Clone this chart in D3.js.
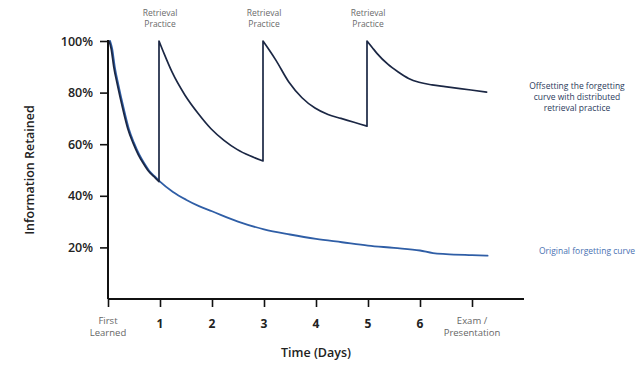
<!DOCTYPE html>
<html><head><meta charset="utf-8">
<script src="https://cdn.jsdelivr.net/npm/d3@7"></script>
<style>
html,body{margin:0;padding:0;background:#fff;}
svg{display:block;font-family:"Open Sans","Noto Sans",sans-serif;}
</style></head>
<body>
<svg id="chart" width="642" height="368"></svg>
<script>
// ---- data ----
const xTickValues = [0, 1, 2, 3, 4, 5, 6, 7];
const xTickLabels = [["First","Learned"], ["1"], ["2"], ["3"], ["4"], ["5"], ["6"], ["Exam /","Presentation"]];
const yTickValues = [20, 40, 60, 80, 100];
const yTickLabels = ["20%", "40%", "60%", "80%", "100%"];
const practiceDays = [1, 3, 5];

// original forgetting curve (day, % retained)
const originalDays   = [0.04, 0.08, 0.13, 0.2, 0.3, 0.4, 0.5, 0.6, 0.7, 0.8, 0.9, 1.0, 1.25, 1.5, 1.75, 2, 2.5, 3, 3.5, 4, 4.5, 5, 5.5, 6, 6.25, 6.5, 7, 7.3];
const originalValues = [100, 97, 90, 83, 74, 66, 60.5, 56, 52.5, 49.5, 47.5, 45.5, 41.5, 38.5, 36, 34, 30, 27, 25, 23.3, 22, 20.7, 19.8, 18.8, 17.8, 17.4, 17, 16.8];

// retrieval-practice curve, one segment per learning/retrieval event
const seg1Days   = [0.04, 0.08, 0.13, 0.2, 0.3, 0.4, 0.5, 0.6, 0.7, 0.8, 0.9, 1.0];
const seg1Values = [100, 97, 90, 83, 74, 66, 60.5, 56, 52.5, 49.5, 47.5, 45.5];
const seg2Days   = [1, 1.1, 1.25, 1.5, 1.75, 2, 2.25, 2.5, 2.75, 3];
const seg2Values = [100, 95, 88, 79, 72, 66, 61.5, 58, 55.5, 53.5];
const seg3Days   = [3, 3.12, 3.25, 3.5, 3.75, 4, 4.25, 4.5, 4.75, 5];
const seg3Values = [100, 96.5, 92.5, 84, 78, 74, 71.5, 70, 68.5, 67];
const seg4Days   = [5, 5.1, 5.2, 5.4, 5.6, 5.8, 6, 6.25, 6.5, 7, 7.3];
const seg4Values = [100, 97.5, 95, 91, 88, 85.5, 84, 83, 82.3, 81, 80.2];

// ---- layout ----
const svg = d3.select("#chart");
const x = d3.scaleLinear().domain([0, 8]).range([108, 524]);
const y = d3.scaleLinear().domain([0, 100]).range([299, 41]);

const toPts = (ds, vs) => ds.map((d, i) => [d, vs[i]]);
const line = d3.line().x(d => x(d[0])).y(d => y(d[1])).curve(d3.curveMonotoneX);

// original curve
svg.append("path")
  .attr("d", line(toPts(originalDays, originalValues)))
  .attr("fill", "none").attr("stroke", "#2f5ea6").attr("stroke-width", 1.8)
  .attr("stroke-linejoin", "round").attr("stroke-linecap", "round");

// retrieval curve: segments joined by vertical jumps
const segs = [toPts(seg1Days, seg1Values), toPts(seg2Days, seg2Values), toPts(seg3Days, seg3Values), toPts(seg4Days, seg4Values)];
const dRet = segs.map((s, i) => { const p = line(s); return i === 0 ? p : p.replace(/^M/, "L"); }).join("");
svg.append("path")
  .attr("d", dRet)
  .attr("fill", "none").attr("stroke", "#1b2744").attr("stroke-width", 1.7)
  .attr("stroke-linejoin", "round").attr("stroke-linecap", "round")
  .attr("transform", "translate(-1,0)");

// axes
const yAxis = d3.axisLeft(y).tickValues(yTickValues).tickSize(8).tickFormat((d, i) => yTickLabels[i]);
const gy = svg.append("g").attr("transform", `translate(${x(0)},0)`).call(yAxis);
gy.select(".domain").attr("d", `M0,${y(100)-1}V${y(0)}`).attr("stroke", "#111").attr("stroke-width", 2);
gy.selectAll(".tick line").attr("stroke", "#111").attr("stroke-width", 1.6);
gy.selectAll(".tick text").attr("x", -15).attr("font-size", 12.5).attr("font-weight", 600)
  .attr("fill", "#222").attr("font-family", "Open Sans, sans-serif");

const xAxis = d3.axisBottom(x).tickValues(xTickValues).tickSize(8).tickFormat("");
const gx = svg.append("g").attr("transform", `translate(0,${y(0)})`).call(xAxis);
gx.select(".domain").attr("d", `M${x(0)},0H${x(8)}`).attr("stroke", "#111").attr("stroke-width", 2);
gx.selectAll(".tick line").attr("stroke", "#111").attr("stroke-width", 1.6);

// x tick labels
xTickValues.forEach((v, i) => {
  const lbl = xTickLabels[i];
  const t = svg.append("text").attr("x", x(v)).attr("text-anchor", "middle");
  if (lbl.length === 1) {
    t.attr("y", 328).attr("font-size", 12).attr("font-weight", 700).attr("fill", "#222").text(lbl[0]);
  } else {
    t.attr("font-size", 9.5).attr("fill", "#666");
    lbl.forEach((s, k) => t.append("tspan").attr("x", x(v)).attr("y", 324 + k * 12).text(s));
  }
});

// retrieval practice labels
practiceDays.forEach(d => {
  const t = svg.append("text").attr("text-anchor", "middle").attr("font-size", 8.5).attr("fill", "#6b6b6b");
  t.append("tspan").attr("x", x(d)).attr("y", 16).text("Retrieval");
  t.append("tspan").attr("x", x(d)).attr("y", 27).text("Practice");
});

// series annotations
const ann = svg.append("text").attr("text-anchor", "middle").attr("font-size", 8.5).attr("fill", "#2b3a5c");
["Offsetting the forgetting", "curve with distributed", "retrieval practice"].forEach((s, k) =>
  ann.append("tspan").attr("x", 577).attr("y", 89 + k * 11.2).text(s));
svg.append("text").attr("x", 587).attr("y", 254).attr("text-anchor", "middle")
  .attr("font-size", 8.5).attr("fill", "#4a72b2").text("Original forgetting curve");

// axis titles
svg.append("text").attr("transform", "translate(34,170) rotate(-90)").attr("text-anchor", "middle")
  .attr("font-size", 12.5).attr("font-weight", 600).attr("fill", "#222").text("Information Retained");
svg.append("text").attr("x", 316).attr("y", 357).attr("text-anchor", "middle")
  .attr("font-size", 12.5).attr("font-weight", 600).attr("fill", "#222").text("Time (Days)");
</script>
</body></html>
